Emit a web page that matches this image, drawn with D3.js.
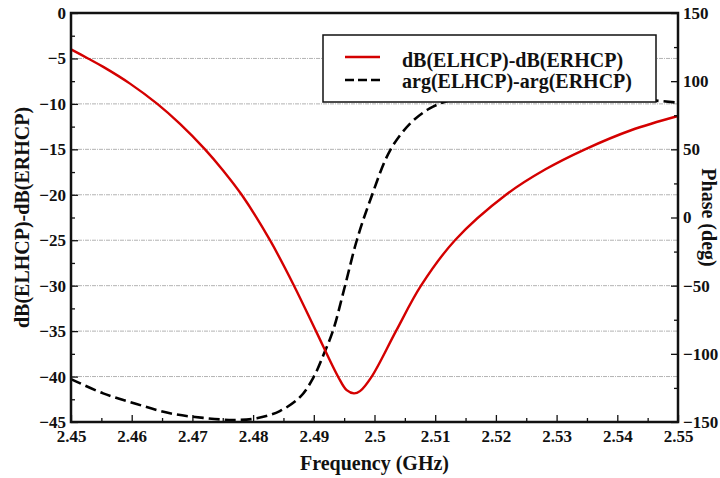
<!DOCTYPE html>
<html>
<head>
<meta charset="utf-8">
<script src="https://cdn.jsdelivr.net/npm/d3@7"></script>
<style>
  html, body { margin: 0; padding: 0; background: #fff; }
  svg { display: block; }
  text { font-family: "Liberation Serif", "Times New Roman", serif; font-weight: bold; fill: #111; }
</style>
</head>
<body>
<svg id="chart" width="720" height="478"></svg>
<script>
// Magnitude difference dB(ELHCP)-dB(ERHCP) versus frequency (GHz)
const magFreq = [2.4500, 2.45280, 2.45532, 2.45972, 2.46422, 2.46796, 2.47208, 2.47509,
                 2.47812, 2.48278, 2.48674, 2.49036, 2.49399, 2.49542, 2.49662, 2.49761,
                 2.49954, 2.50354, 2.50766, 2.51326, 2.52166, 2.52817, 2.53468, 2.54226, 2.5500];
const magDB   = [-4.0, -5.0, -5.93, -7.77, -10.0, -12.2, -15.0, -17.35,
                 -20.0, -25.0, -30.0, -35.0, -40.0, -41.5, -41.85, -41.6,
                 -40.0, -35.0, -30.0, -25.0, -20.0, -17.2, -15.0, -12.9, -11.33];

// Phase difference arg(ELHCP)-arg(ERHCP) in degrees versus frequency (GHz)
const phaseFreq = [2.4500, 2.4553, 2.4608, 2.4663, 2.4718, 2.4767, 2.4806, 2.4844, 2.4878,
                   2.4900, 2.4917, 2.4932, 2.4951, 2.4971, 2.4993, 2.5026, 2.5059, 2.5091,
                   2.5124, 2.5185, 2.5261, 2.5349, 2.5426, 2.5500];
const phaseDeg  = [-118.5, -129.0, -136.8, -143.6, -147.0, -148.5, -147.3, -142.0, -131.4,
                   -116.8, -99.6, -82.5, -50.8, -16.5, 12.8, 49.5, 69.0, 80.0,
                   86.0, 91.1, 92.3, 91.1, 87.4, 84.2];

const xTicks      = [2.45, 2.46, 2.47, 2.48, 2.49, 2.50, 2.51, 2.52, 2.53, 2.54, 2.55];
const xTickLabels = ["2.45", "2.46", "2.47", "2.48", "2.49", "2.5", "2.51", "2.52", "2.53", "2.54", "2.55"];
const yLeftTicks  = [0, -5, -10, -15, -20, -25, -30, -35, -40, -45];
const yRightTicks = [150, 100, 50, 0, -50, -100, -150];
const seriesNames = ["dB(ELHCP)-dB(ERHCP)", "arg(ELHCP)-arg(ERHCP)"];

const svg = d3.select("#chart");
const plotL = 71, plotR = 678, plotT = 13, plotB = 422;
const midY = (plotT + plotB) / 2;

const x  = d3.scaleLinear().domain([2.45, 2.55]).range([plotL, plotR]);
const yL = d3.scaleLinear().domain([-45, 0]).range([plotB, plotT]);
const yR = d3.scaleLinear().domain([-150, 150]).range([plotB, plotT]);

const fmtNum = v => (v < 0 ? "\u2212" + Math.abs(v) : String(v));

// horizontal grid lines at each left-axis major tick
svg.append("g").selectAll("line")
  .data(yLeftTicks.filter(v => v !== 0 && v !== -45))
  .join("line")
  .attr("x1", plotL).attr("x2", plotR)
  .attr("y1", d => yL(d)).attr("y2", d => yL(d))
  .attr("stroke", "#b3b3b3").attr("stroke-width", 1)
  .attr("stroke-dasharray", "4,1,1,1");

// curves
const magLine = d3.line()
  .x((d, i) => x(magFreq[i])).y(d => yL(d))
  .curve(d3.curveCatmullRom.alpha(0.5));
const phaseLine = d3.line()
  .x((d, i) => x(phaseFreq[i])).y(d => yR(d))
  .curve(d3.curveCatmullRom.alpha(0.5));

svg.append("path").datum(phaseDeg)
  .attr("d", phaseLine).attr("fill", "none")
  .attr("stroke", "#000").attr("stroke-width", 2.6)
  .attr("stroke-dasharray", "11,5");

svg.append("path").datum(magDB)
  .attr("d", magLine).attr("fill", "none")
  .attr("stroke", "#d40000").attr("stroke-width", 2.4);

// axes (ticks point inward)
const xAxis = d3.axisBottom(x).tickValues(xTicks)
  .tickFormat((d, i) => xTickLabels[i]).tickSizeInner(-7).tickSizeOuter(0).tickPadding(8);
const xMinor = d3.axisBottom(x).tickValues(d3.range(2.455, 2.55, 0.01))
  .tickFormat("").tickSizeInner(-4).tickSizeOuter(0);
const yLAxis = d3.axisLeft(yL).tickValues(yLeftTicks)
  .tickFormat(fmtNum).tickSizeInner(-7).tickSizeOuter(0).tickPadding(5);
const yLMinor = d3.axisLeft(yL).tickValues(d3.range(-42.5, 0, 5))
  .tickFormat("").tickSizeInner(-4).tickSizeOuter(0);
const yRAxis = d3.axisRight(yR).tickValues(yRightTicks)
  .tickFormat(fmtNum).tickSizeInner(-7).tickSizeOuter(0).tickPadding(5);
const yRMinor = d3.axisRight(yR).tickValues(d3.range(-125, 150, 50))
  .tickFormat("").tickSizeInner(-4).tickSizeOuter(0);

function styleAxis(g) {
  g.select(".domain").remove();
  g.selectAll(".tick line").attr("stroke", "#111").attr("stroke-width", 1.3);
  g.selectAll(".tick text").attr("font-size", 17).attr("fill", "#111")
    .attr("font-family", "'Liberation Serif', serif").attr("font-weight", "bold");
}

svg.append("g").attr("transform", `translate(0,${plotB})`).call(xAxis).call(styleAxis);
svg.append("g").attr("transform", `translate(0,${plotB})`).call(xMinor).call(styleAxis);
svg.append("g").attr("transform", `translate(${plotL},0)`).call(yLAxis).call(styleAxis);
svg.append("g").attr("transform", `translate(${plotL},0)`).call(yLMinor).call(styleAxis);
svg.append("g").attr("transform", `translate(${plotR},0)`).call(yRAxis).call(styleAxis);
svg.append("g").attr("transform", `translate(${plotR},0)`).call(yRMinor).call(styleAxis);

// plot frame
svg.append("rect")
  .attr("x", plotL).attr("y", plotT)
  .attr("width", plotR - plotL).attr("height", plotB - plotT)
  .attr("fill", "none").attr("stroke", "#111").attr("stroke-width", 2.5);

// axis titles, centred on the plot area
svg.append("text").attr("x", (plotL + plotR) / 2).attr("y", 470)
  .attr("text-anchor", "middle").attr("font-size", 20).text("Frequency (GHz)");
svg.append("text")
  .attr("transform", `translate(29,${midY}) rotate(-90)`)
  .attr("text-anchor", "middle").attr("font-size", 20).text(seriesNames[0]);
svg.append("text")
  .attr("transform", `translate(702,${midY}) rotate(90)`)
  .attr("text-anchor", "middle").attr("font-size", 20).text("Phase (deg)");

// legend
const lg = svg.append("g");
lg.append("rect").attr("x", 323).attr("y", 35).attr("width", 333).attr("height", 67)
  .attr("fill", "#fff").attr("stroke", "#111").attr("stroke-width", 1.5);
lg.append("line").attr("x1", 345).attr("x2", 380).attr("y1", 57).attr("y2", 57)
  .attr("stroke", "#d40000").attr("stroke-width", 2.4);
lg.append("line").attr("x1", 345).attr("x2", 380).attr("y1", 80).attr("y2", 80)
  .attr("stroke", "#000").attr("stroke-width", 2.6).attr("stroke-dasharray", "9,4");
lg.append("text").attr("x", 402).attr("y", 67).attr("font-size", 20).text(seriesNames[0]);
lg.append("text").attr("x", 402).attr("y", 88).attr("font-size", 20).text(seriesNames[1]);
</script>
</body>
</html>
